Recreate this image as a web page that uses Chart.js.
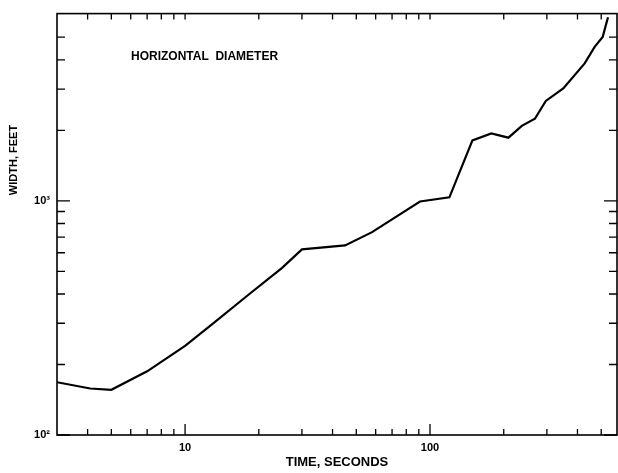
<!DOCTYPE html>
<html>
<head>
<meta charset="utf-8">
<script src="https://cdn.jsdelivr.net/npm/chart.js@4"></script>
<style>
body { margin: 0; background: #fff; }
#wrap { width: 618px; height: 473px; }
</style>
</head>
<body>
<div id="wrap"><canvas id="c"></canvas></div>
<script>
const timeSec = [3, 4.1, 5, 7, 10, 12.8, 18.2, 24.9, 30, 45, 58, 91, 120, 149, 178, 209, 237, 268, 297, 350, 428, 470, 507, 533];
const widthFt = [168, 158, 156, 187, 240, 295, 398, 517, 620, 645, 735, 993, 1035, 1810, 1940, 1860, 2090, 2240, 2670, 3020, 3860, 4540, 5010, 6080];

const xTickVals = [4, 5, 6, 7, 8, 9, 10, 20, 30, 40, 50, 60, 70, 80, 90, 100, 200, 300, 400, 500];
const yTickVals = [100, 200, 300, 400, 500, 600, 700, 800, 900, 1000, 2000, 3000, 4000, 5000];
const xTickText = { 10: '10', 100: '100' };
const yTickText = { 100: '10\u00B2', 1000: '10\u00B3' };

const FONT = '"Liberation Sans", Arial, sans-serif';

// tick marks point into the plot, on all four sides; plus the free texts
const inwardTicks = {
    id: 'inwardTicks',
    afterDraw(chart) {
        const { ctx, chartArea: a, scales: { x, y } } = chart;
        ctx.save();
        ctx.strokeStyle = '#000';
        ctx.lineWidth = 1.6;
        ctx.strokeRect(a.left, a.top, a.right - a.left, a.bottom - a.top);
        ctx.lineWidth = 1.3;
        ctx.beginPath();
        xTickVals.forEach(v => {
            const px = x.getPixelForValue(v);
            const len = xTickText[v] ? 11 : 6;
            ctx.moveTo(px, a.bottom); ctx.lineTo(px, a.bottom - len);
            ctx.moveTo(px, a.top); ctx.lineTo(px, a.top + 6);
        });
        yTickVals.forEach(v => {
            const py = y.getPixelForValue(v);
            const len = yTickText[v] ? 13 : 8;
            ctx.moveTo(a.left, py); ctx.lineTo(a.left + len, py);
            ctx.moveTo(a.right, py); ctx.lineTo(a.right - len, py);
        });
        ctx.stroke();

        ctx.fillStyle = '#000';
        ctx.textBaseline = 'middle';
        ctx.font = 'bold 12px ' + FONT;
        ctx.fillText('HORIZONTAL  DIAMETER', 131, 57);

        ctx.font = 'bold 11px ' + FONT;
        ctx.textAlign = 'center';
        ctx.translate(14, 160);
        ctx.rotate(-Math.PI / 2);
        ctx.fillText('WIDTH, FEET', 0, 0);
        ctx.restore();
    }
};

new Chart(document.getElementById('c'), {
    type: 'line',
    data: {
        datasets: [{
            label: 'Horizontal diameter',
            data: timeSec.map((t, i) => ({ x: t, y: widthFt[i] })),
            borderColor: '#000',
            borderWidth: 2.2,
            pointRadius: 0,
            tension: 0,
            fill: false
        }]
    },
    options: {
        responsive: true,
        maintainAspectRatio: false,
        animation: false,
        layout: { padding: { top: 10, right: 1, left: 0, bottom: 0 } },
        plugins: { legend: { display: false }, tooltip: { enabled: false } },
        scales: {
            x: {
                type: 'logarithmic',
                min: 3,
                max: 580,
                afterBuildTicks: s => { s.ticks = xTickVals.map(v => ({ value: v })); },
                afterFit: s => { s.height = 38; },
                grid: { display: false, tickLength: 0 },
                border: { display: false },
                ticks: {
                    autoSkip: false,
                    maxRotation: 0,
                    padding: 6,
                    color: '#000',
                    font: { family: FONT, size: 11, weight: 'bold' },
                    callback: v => xTickText[v] || ''
                },
                title: {
                    display: true,
                    text: 'TIME, SECONDS',
                    color: '#000',
                    font: { family: FONT, size: 13, weight: 'bold' },
                    padding: { top: 0, bottom: 3 }
                }
            },
            y: {
                type: 'logarithmic',
                min: 100,
                max: 6300,
                afterBuildTicks: s => { s.ticks = yTickVals.map(v => ({ value: v })); },
                afterFit: s => { s.width = 57; },
                grid: { display: false, tickLength: 0 },
                border: { display: false },
                ticks: {
                    autoSkip: false,
                    padding: 7,
                    color: '#000',
                    font: { family: FONT, size: 11, weight: 'bold' },
                    callback: v => yTickText[v] || ''
                }
            }
        }
    },
    plugins: [inwardTicks]
});
</script>
</body>
</html>
